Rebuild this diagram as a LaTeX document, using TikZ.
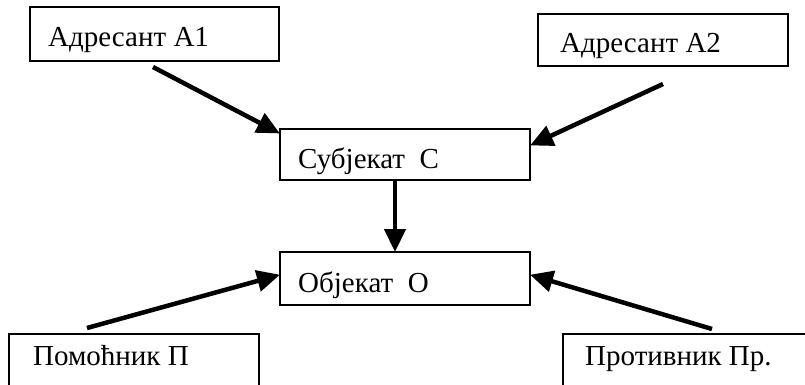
\documentclass[tikz,border=0pt]{standalone}
\usepackage{fontspec}
\setmainfont{Liberation Serif}
\newfontfamily\timesfont{Liberation Serif}
\usetikzlibrary{arrows.meta}
\begin{document}
\begin{tikzpicture}[x=1pt,y=-1pt,
  box/.style={draw, line width=2pt, rectangle, inner sep=0pt, anchor=north west},
  lbl/.style={anchor=base west, inner sep=0pt, font=\timesfont\fontsize{29}{32}\selectfont},
  arr/.style={line width=4.5pt, -{Triangle[length=23pt,width=21pt]}, shorten >=-1pt}]
\useasboundingbox (0,0) rectangle (805,385);
\clip (0,0) rectangle (805,385);
\node[box, minimum width=249pt, minimum height=54pt] (a1) at (29,6) {};
\node[lbl] (ta1) at (48,47) {Адресант А1};
\node[box, minimum width=250pt, minimum height=52pt] (a2) at (537,13) {};
\node[lbl] (ta2) at (560,53) {Адресант А2};
\node[box, minimum width=250pt, minimum height=51pt] (s) at (279,128) {};
\node[lbl] (ts) at (298,168) {Субјекат\ \ С};
\node[box, minimum width=250pt, minimum height=53pt] (o) at (279,251) {};
\node[lbl] (to) at (298,292) {Објекат\ \ О};
\node[box, minimum width=250pt, minimum height=70pt] (p) at (8,333) {};
\node[lbl] (tp) at (33,365) {Помоћник П};
\node[box, minimum width=260pt, minimum height=70pt] (q) at (562,333) {};
\node[lbl] (tq) at (585,365) {Противник Пр.};
\coordinate (c1) at (153,67);
\coordinate (c2) at (663,84);
\coordinate (c3) at (87,328);
\coordinate (c4) at (712,329);
\draw[arr] (c1) -- ([yshift=-5pt]s.north west);
\draw[arr] (c2) -- ([yshift=-17pt]s.north east);
\draw[arr] ([xshift=-10pt]s.south) -- ([xshift=-10pt]o.north);
\draw[arr] (c3) -- ([yshift=-24pt]o.north west);
\draw[arr] (c4) -- ([yshift=-24pt]o.north east);
\end{tikzpicture}
\end{document}
